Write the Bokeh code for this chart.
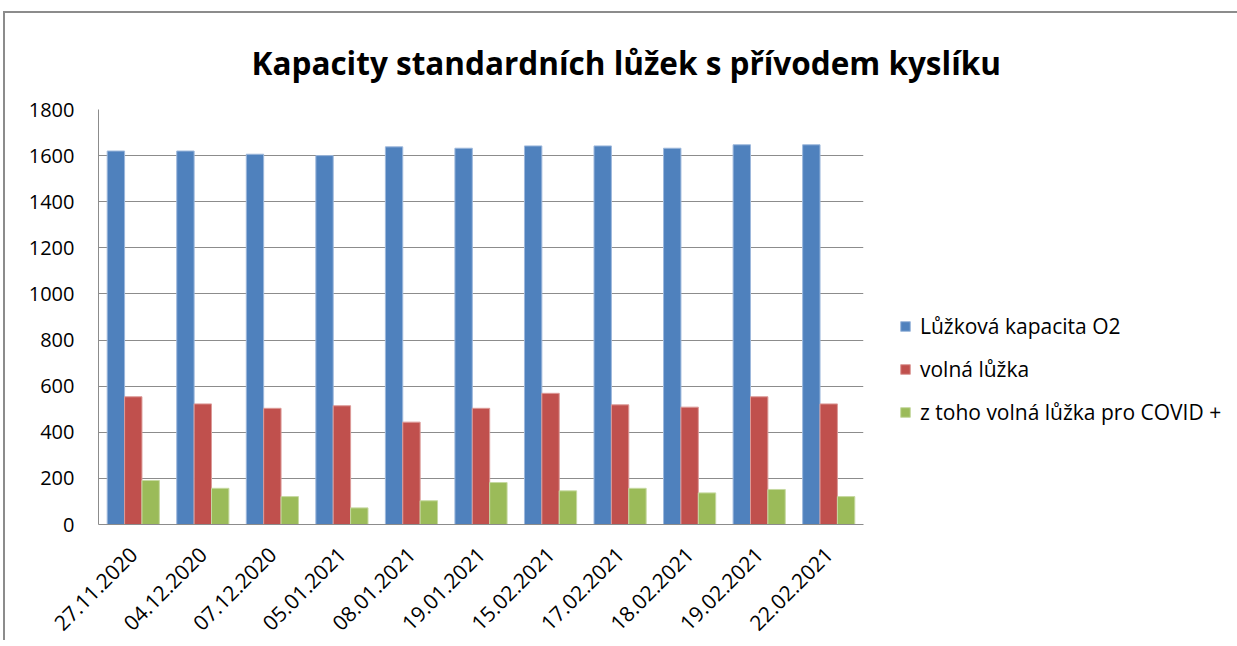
import math
from bokeh.plotting import figure
from bokeh.models import ColumnDataSource, FactorRange, Range1d, Legend, LegendItem, FixedTicker, Title
from bokeh.transform import dodge
from bokeh.embed import file_html
from bokeh.resources import INLINE

dates = ["27.11.2020", "04.12.2020", "07.12.2020", "05.01.2021", "08.01.2021",
         "19.01.2021", "15.02.2021", "17.02.2021", "18.02.2021", "19.02.2021", "22.02.2021"]
capacity = [1620, 1620, 1606, 1600, 1638, 1632, 1642, 1642, 1632, 1647, 1647]
free_beds = [554, 523, 504, 515, 444, 504, 569, 519, 509, 554, 523]
free_covid = [191, 157, 121, 72, 103, 182, 146, 157, 137, 152, 121]
series_names = ["Lůžková kapacita O2", "volná lůžka", "z toho volná lůžka pro COVID +"]
y_ticks = [0, 200, 400, 600, 800, 1000, 1200, 1400, 1600, 1800]
title_text = "Kapacity standardních lůžek s přívodem kyslíku"

FONT = "Open Sans"

src = ColumnDataSource(dict(date=dates, cap=capacity, free=free_beds, covid=free_covid))

p = figure(x_range=FactorRange(*dates), y_range=Range1d(0, 1800),
           frame_width=765, frame_height=415, output_backend="svg", toolbar_location=None,
           min_border_left=93, min_border_right=0, min_border_top=96, min_border_bottom=115,
           title=None)

p.styles = {"border-left": "2px solid #8c8c8c", "border-top": "2px solid #8c8c8c",
            "margin-left": "3px", "margin-top": "11px"}

colors = ["#4F81BD", "#C0504D", "#9BBB59"]
edges = ["#9db8dc", "#dc9a98", "#c6d9a0"]
fields = ["cap", "free", "covid"]
offsets = [-0.25, 0.0, 0.25]
renderers = []
for f, c, e, o in zip(fields, colors, edges, offsets):
    r = p.vbar(x=dodge("date", o, range=p.x_range), top=f, width=0.25, source=src,
               fill_color=c, line_color=e, line_width=1)
    renderers.append(r)

title = Title(text=title_text, text_font=FONT, text_font_size="31.5px", text_font_style="bold",
              text_color="#000000", align="left", offset=153, standoff=47, vertical_align="top")
p.add_layout(title, "above")

p.outline_line_color = None
p.xgrid.grid_line_color = None
p.ygrid.grid_line_color = "#8c8c8c"
p.ygrid.grid_line_width = 1

p.yaxis.ticker = FixedTicker(ticks=y_ticks)
p.yaxis.axis_line_color = "#8c8c8c"
p.yaxis.major_tick_line_color = None
p.yaxis.minor_tick_line_color = None
p.yaxis.major_label_standoff = 18
p.yaxis.major_label_text_font = FONT
p.yaxis.major_label_text_font_size = "20px"
p.yaxis.major_label_text_color = "#000000"

p.xaxis.axis_line_color = "#8c8c8c"
p.xaxis.major_tick_line_color = None
p.xaxis.minor_tick_line_color = None
p.xaxis.major_label_orientation = math.pi / 4
p.xaxis.major_label_standoff = 20
p.xaxis.major_label_text_baseline = "top"
p.xaxis.major_label_text_font = FONT
p.xaxis.major_label_text_font_size = "21px"
p.xaxis.major_label_text_color = "#000000"

legend = Legend(items=[LegendItem(label=n, renderers=[r]) for n, r in zip(series_names, renderers)],
                location=(36, 98), orientation="vertical", glyph_width=12, glyph_height=12,
                label_standoff=9, spacing=15, padding=0, margin=0,
                label_text_font=FONT, label_text_font_size="21px", label_text_color="#000000",
                border_line_color=None, background_fill_alpha=0, label_height=20)
p.add_layout(legend, "right")

open("out.html", "w").write(file_html(p, INLINE))
